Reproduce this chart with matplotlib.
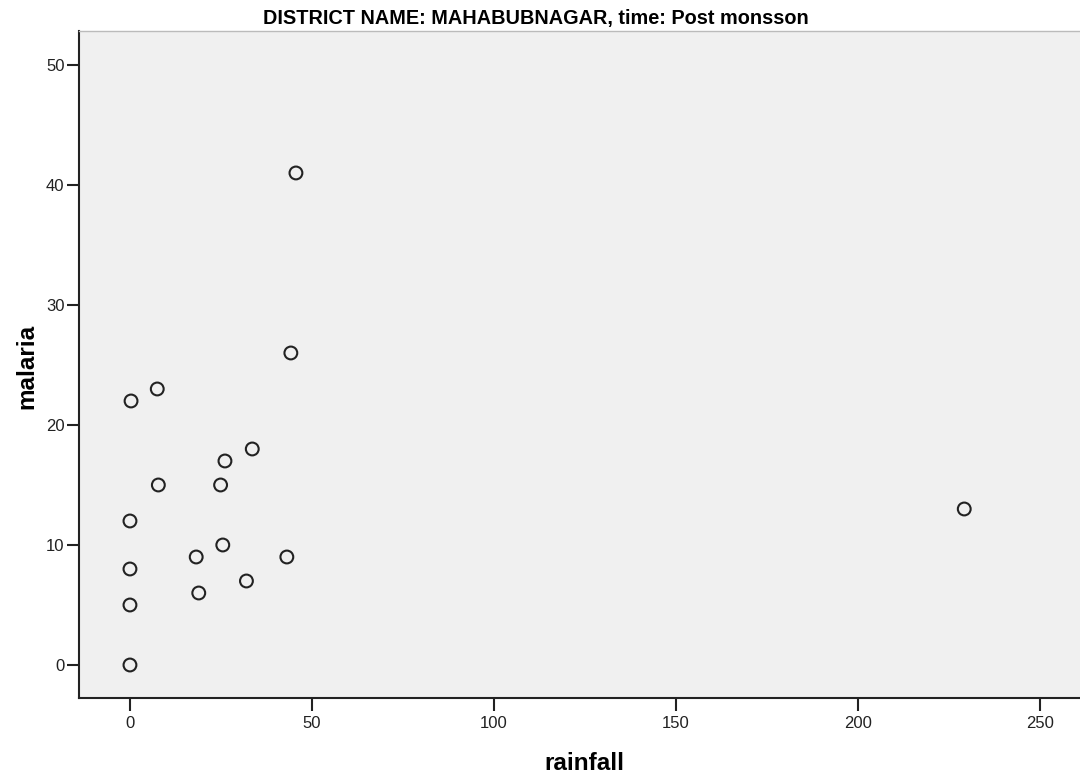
import matplotlib
matplotlib.use("Agg")
import matplotlib.pyplot as plt

plt.rcParams["font.family"] = ["Liberation Sans", "DejaVu Sans"]

rainfall = [44.2, 7.5, 0.3, 33.6, 26.1, 7.8, 24.9, 0.0, 25.5, 18.2, 43.1, 0.0, 32.0, 18.9, 0.0, 0.0, 45.6, 229.2]
malaria = [26, 23, 22, 18, 17, 15, 15, 12, 10, 9, 9, 8, 7, 6, 5, 0, 41, 13]
xticks = [0, 50, 100, 150, 200, 250]
yticks = [0, 10, 20, 30, 40, 50]

fig = plt.figure(figsize=(10.8, 7.78), dpi=100)
ax = fig.add_axes([79/1080, 1-698/778, 1-79/1080, (698-31)/778])
ax.set_facecolor("#f0f0f0")
ax.scatter(rainfall, malaria, s=85, facecolors="none", edgecolors="#222222", linewidths=1.5, zorder=3)
ax.set_xlim(-14, 261)
ax.set_ylim(-2.75, 52.83)
ax.set_xticks(xticks)
ax.set_yticks(yticks)
ax.tick_params(direction="out", length=9, width=1.5, labelsize=12, colors="#222222")
ax.tick_params(axis="y", pad=1.5)
ax.tick_params(axis="x", pad=4)
for s in ["left", "bottom"]:
    ax.spines[s].set_linewidth(1.5)
    ax.spines[s].set_color("#222222")
ax.spines["right"].set_visible(False)
ax.spines["top"].set_color("#bbbbbb")
ax.spines["top"].set_linewidth(1)

fig.text(584/1080, 1-770/778, "rainfall", ha="center", va="baseline", fontsize=17.5, fontweight="bold")
fig.text(27/1080, 1-366/778, "malaria", ha="center", va="center", rotation=90, fontsize=17.5, fontweight="bold")
fig.text(536/1080, 1-24/778, "DISTRICT NAME: MAHABUBNAGAR, time: Post monsson", ha="center", va="baseline",
         fontsize=14.3, fontweight="bold")
fig.savefig("out.png", dpi=100)
